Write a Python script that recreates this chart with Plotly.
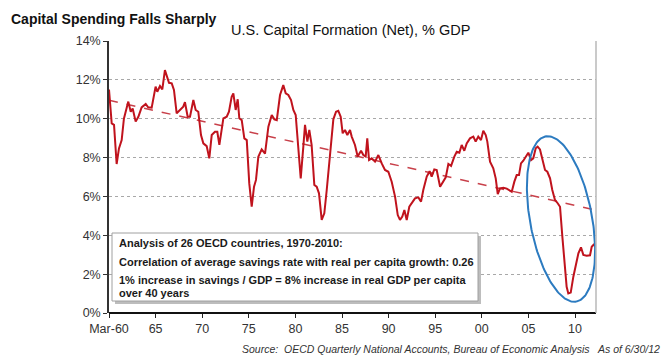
import numpy as np
import plotly.graph_objects as go

# ---- data ----
years = [1960.00, 1960.29, 1960.54, 1960.82, 1961.07, 1961.36, 1961.60, 1962.07, 1962.33, 1962.54,
         1962.86, 1963.15, 1963.50, 1963.94, 1964.20, 1964.58, 1965.00, 1965.18, 1965.47, 1965.72,
         1966.00, 1966.19, 1966.44, 1966.73, 1966.97, 1967.26, 1967.50, 1967.97, 1968.15, 1968.44,
         1968.69, 1969.05, 1969.30, 1969.58, 1969.87, 1970.12, 1970.48, 1970.76, 1971.02, 1971.37,
         1971.62, 1971.84, 1972.27, 1972.63, 1972.87, 1973.16, 1973.34, 1973.59, 1973.81, 1973.98,
         1974.24, 1974.52, 1974.78, 1975.05, 1975.31, 1975.56, 1975.77, 1976.02, 1976.38, 1976.74,
         1977.10, 1977.46, 1977.74, 1978.00, 1978.35, 1978.70, 1978.96, 1979.24, 1979.53, 1979.78,
         1980.03, 1980.31, 1980.57, 1980.85, 1981.03, 1981.28, 1981.49, 1981.74, 1982.03, 1982.28,
         1982.53, 1982.82, 1983.10, 1983.36, 1983.71, 1984.07, 1984.36, 1984.60, 1984.86, 1985.07,
         1985.32, 1985.57, 1985.86, 1986.04, 1986.39, 1986.68, 1987.04, 1987.29, 1987.54, 1987.71,
         1987.90, 1988.19, 1988.54, 1988.90, 1989.26, 1989.61, 1989.97, 1990.33, 1990.69, 1990.98,
         1991.22, 1991.47, 1991.69, 1991.94, 1992.22, 1992.48, 1992.83, 1993.19, 1993.48, 1993.72,
         1994.09, 1994.40, 1994.62, 1994.90, 1995.16, 1995.52, 1995.87, 1996.13, 1996.41, 1996.70,
         1997.05, 1997.31, 1997.59, 1997.84, 1998.12, 1998.38, 1998.73, 1999.09, 1999.34, 1999.62,
         1999.91, 2000.16, 2000.42, 2000.59, 2000.88, 2001.23, 2001.49, 2001.71, 2001.95, 2002.31,
         2002.67, 2003.03, 2003.21, 2003.49, 2003.74, 2003.99, 2004.20, 2004.45, 2004.71, 2004.99,
         2005.28, 2005.52, 2005.78, 2005.99, 2006.24, 2006.49, 2006.78, 2007.03, 2007.32, 2007.56,
         2007.85, 2008.14, 2008.39, 2008.64, 2008.85, 2009.10, 2009.28, 2009.54, 2009.82, 2010.11,
         2010.36, 2010.64, 2010.89, 2011.25, 2011.61, 2011.79, 2012.07]
capital_formation = [11.5, 9.76, 9.68, 7.67, 8.47, 8.9, 10.0, 10.88, 10.36, 10.53,
                     9.85, 10.1, 10.58, 10.76, 10.59, 10.57, 11.65, 11.39, 11.68, 11.51,
                     12.5, 12.25, 11.85, 11.82, 11.48, 10.28, 10.41, 10.62, 10.85, 10.1,
                     10.1, 10.96, 10.45, 10.36, 9.16, 8.73, 8.59, 7.96, 9.16, 9.33,
                     9.33, 8.65, 10.02, 10.1, 10.36, 11.13, 11.3, 10.45, 11.0, 10.02,
                     9.93, 8.99, 8.9, 6.67, 5.47, 6.5, 6.85, 8.04, 8.42, 8.2,
                     9.59, 10.19, 9.97, 9.93, 11.22, 11.73, 11.31, 11.22, 10.96, 10.45,
                     10.19, 8.39, 6.93, 8.56, 9.68, 8.82, 9.42, 8.65, 6.59, 6.5,
                     6.16, 4.79, 5.13, 6.33, 8.22, 9.97, 10.36, 10.41, 10.1, 9.25,
                     9.42, 9.16, 9.42, 9.08, 8.65, 8.05, 8.35, 8.13, 8.05, 8.99,
                     7.87, 7.96, 7.79, 8.13, 7.7, 7.36, 7.27, 6.76, 5.99, 5.04,
                     4.79, 4.96, 5.3, 4.79, 5.47, 5.65, 5.9, 5.95, 5.73, 6.33,
                     7.02, 7.3, 7.02, 7.39, 7.36, 6.5, 6.76, 6.98, 7.67, 7.57,
                     8.05, 8.3, 8.25, 8.65, 8.35, 8.73, 8.99, 9.08, 8.82, 9.08,
                     8.9, 9.38, 9.16, 8.82, 7.79, 7.45, 6.93, 6.12, 6.42, 6.45,
                     6.4, 6.3, 6.24, 6.76, 7.1, 7.1, 7.7, 7.84, 8.05, 8.25,
                     7.87, 7.96, 8.48, 8.56, 8.42, 7.96, 7.36, 7.27, 6.93, 6.33,
                     5.82, 5.65, 5.47, 3.93, 2.56, 1.35, 1.01, 1.05, 1.87, 2.56,
                     3.07, 3.38, 2.99, 2.95, 2.97, 3.41, 3.55]

trend_years = [1960.0, 2012.2]
trend_values = [10.95, 5.3]

tick_years = [1960, 1965, 1970, 1975, 1980, 1985, 1990, 1995, 2000, 2005, 2010]
tick_labels = ["Mar-60", "65", "70", "75", "80", "85", "90", "95", "00", "05", "10"]
y_ticks = [0, 2, 4, 6, 8, 10, 12, 14]
y_labels = ["0%", "2%", "4%", "6%", "8%", "10%", "12%", "14%"]

box_lines = [
    "Analysis of 26 OECD countries, 1970-2010:",
    "Correlation of average savings rate with real per capita growth: 0.26",
    "1% increase in savings / GDP = 8% increase in real GDP per capita",
    "over 40 years",
]

# ---- layout geometry (page pixels; page body has an 8px default margin) ----
PAGE_W, PAGE_H = 669, 360
OFF = 8
W, H = PAGE_W - OFF, PAGE_H - OFF
PL, PR, PT, PB = 109, 596, 41, 313          # plot area edges on the page
L, T = PL - OFF, PT - OFF
R, B = W - (PR - OFF), H - (PB - OFF)
plot_w = PR - PL
plot_h = PB - PT
x_min, x_max = 1960.0, 2012.25
y_min, y_max = 0, 14
px_per_year = plot_w / (x_max - x_min)
px_per_pct = plot_h / (y_max - y_min)

FONT = "Liberation Sans, Arial, sans-serif"
RED = "#C0131D"
BLUE = "#2C7BC0"

fig = go.Figure()

fig.add_trace(go.Scatter(x=trend_years, y=trend_values, mode="lines",
                         line=dict(color="#C8404A", width=1.5, dash="dash"),
                         hoverinfo="skip", showlegend=False))
fig.add_trace(go.Scatter(x=years, y=capital_formation, mode="lines",
                         line=dict(color=RED, width=2), showlegend=False))

# blue ellipse highlight (defined in page pixels, converted to data units)
t = np.linspace(0, 2 * np.pi, 200)
cx_px, cy_px = 561.0, 219.0
a_px, b_px = 84.0, 31.0
tilt = np.deg2rad(10.5)
dx = a_px * np.cos(t) * np.sin(tilt) + b_px * np.sin(t) * np.cos(tilt)
dy = a_px * np.cos(t) * np.cos(tilt) - b_px * np.sin(t) * np.sin(tilt)
ex = x_min + (cx_px + dx - PL) / px_per_year
ey = (PB - (cy_px + dy)) / px_per_pct
fig.add_trace(go.Scatter(x=ex, y=ey, mode="lines", line=dict(color=BLUE, width=2),
                         hoverinfo="skip", showlegend=False, cliponaxis=False))

def px_x(p):
    return (p - PL) / plot_w

def px_y(p):
    return (PB - p) / plot_h

shapes = []
shapes.append(dict(type="line", xref="paper", yref="paper", x0=1, x1=1, y0=0, y1=1,
                   line=dict(color="#B8B8B8", width=1.5)))
shapes.append(dict(type="rect", xref="paper", yref="paper",
                   x0=px_x(115), x1=px_x(481), y0=px_y(304), y1=px_y(236),
                   fillcolor="#BDBDBD", line=dict(width=0), layer="above"))
shapes.append(dict(type="rect", xref="paper", yref="paper",
                   x0=px_x(112), x1=px_x(478), y0=px_y(301), y1=px_y(233),
                   fillcolor="white", line=dict(color="#A0A0A0", width=1), layer="above"))

annotations = []
line_y = [243, 262, 280, 293]
for txt, yy in zip(box_lines, line_y):
    annotations.append(dict(text="<b>" + txt + "</b>", xref="paper", yref="paper",
                            x=px_x(117), y=px_y(yy), xanchor="left", yanchor="middle",
                            showarrow=False, font=dict(family=FONT, size=11, color="#1a1a1a")))
annotations.append(dict(text="<b>Capital Spending Falls Sharply</b>", xref="paper", yref="paper",
                        x=px_x(9), y=px_y(9), xanchor="left", yanchor="top", showarrow=False,
                        font=dict(family=FONT, size=14, color="#111")))
annotations.append(dict(text="U.S. Capital Formation (Net), % GDP", xref="paper", yref="paper",
                        x=px_x(350), y=px_y(30), xanchor="center", yanchor="middle", showarrow=False,
                        font=dict(family=FONT, size=14.5, color="#111")))
annotations.append(dict(text="<i>Source:  OECD Quarterly National Accounts, Bureau of Economic Analysis</i>",
                        xref="paper", yref="paper", x=px_x(240), y=px_y(349), xanchor="left",
                        yanchor="middle", showarrow=False, font=dict(family=FONT, size=10.5, color="#333")))
annotations.append(dict(text="<i>As of 6/30/12</i>", xref="paper", yref="paper", x=px_x(595),
                        y=px_y(349), xanchor="left", yanchor="middle", showarrow=False,
                        font=dict(family=FONT, size=10.5, color="#333")))

fig.update_layout(
    width=W, height=H,
    margin=dict(l=L, r=R, t=T, b=B, pad=0),
    paper_bgcolor="white", plot_bgcolor="white",
    font=dict(family=FONT, size=12, color="#333"),
    shapes=shapes, annotations=annotations,
    showlegend=False,
    xaxis=dict(range=[x_min, x_max], tickvals=tick_years, ticktext=tick_labels,
               showgrid=False, zeroline=False, showline=False,
               ticks="outside", ticklen=4, tickcolor="#222", tickfont=dict(size=12.5, color="#333")),
    yaxis=dict(range=[y_min, y_max], tickvals=y_ticks, ticktext=y_labels,
               showgrid=True, gridcolor="#A8A8A8", griddash="dot", gridwidth=1,
               zeroline=True, zerolinecolor="#111", zerolinewidth=2,
               showline=True, linecolor="#333", linewidth=1.5,
               ticks="outside", ticklen=4, tickcolor="#333",
               tickfont=dict(size=12.5, color="#333")),
)

fig.write_html("out.html")
